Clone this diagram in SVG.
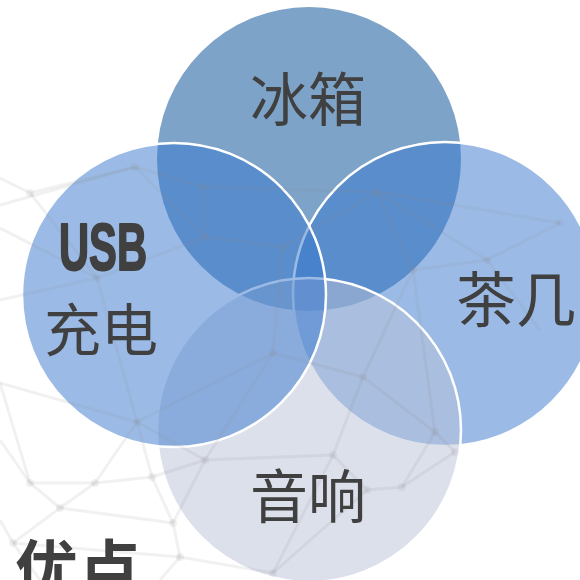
<svg xmlns="http://www.w3.org/2000/svg" width="580" height="580" viewBox="0 0 580 580">
<style>
.mesh line{stroke:#8c8c8c;stroke-opacity:0.12;stroke-width:3}
.mesh circle{fill:#8c8c8c;fill-opacity:0.12}
.blue{fill:#3777CD;fill-opacity:0.5;stroke:#fff;stroke-width:2.5}
.gray{fill:#B9C1D7;fill-opacity:0.5;stroke:#fff;stroke-width:2.5}
.lbl{font-family:"Noto Sans CJK SC","Noto Sans",sans-serif;fill:#404040;text-anchor:middle}
</style>
<rect width="580" height="580" fill="#fff"/>
<g id="top"><circle cx="309" cy="159" r="152" fill="#7DA3C8"/></g>
<g id="right"><circle class="blue" cx="445" cy="294" r="152"/></g>
<g id="bottom"><circle class="gray" cx="309" cy="430" r="152"/></g>
<g id="left"><circle class="blue" cx="174" cy="295" r="152"/></g>
<g class="mesh">
<line x1="0" y1="178" x2="30" y2="193"/><line x1="30" y1="193" x2="135" y2="167"/><line x1="0" y1="205" x2="135" y2="167"/>
<line x1="135" y1="167" x2="203" y2="187"/><line x1="203" y1="187" x2="377" y2="192"/><line x1="377" y1="192" x2="560" y2="223"/>
<line x1="560" y1="223" x2="487" y2="260"/><line x1="487" y1="260" x2="413" y2="270"/><line x1="377" y1="192" x2="487" y2="260"/>
<line x1="377" y1="192" x2="413" y2="270"/><line x1="203" y1="187" x2="205" y2="237"/><line x1="205" y1="237" x2="283" y2="247"/>
<line x1="283" y1="247" x2="377" y2="192"/><line x1="135" y1="167" x2="205" y2="237"/><line x1="30" y1="193" x2="97" y2="278"/>
<line x1="0" y1="228" x2="97" y2="278"/><line x1="97" y1="278" x2="205" y2="237"/><line x1="0" y1="300" x2="97" y2="278"/>
<line x1="97" y1="278" x2="137" y2="422"/><line x1="137" y1="422" x2="273" y2="353"/><line x1="273" y1="353" x2="283" y2="247"/>
<line x1="273" y1="353" x2="363" y2="377"/><line x1="363" y1="377" x2="413" y2="270"/><line x1="413" y1="270" x2="435" y2="432"/>
<line x1="435" y1="432" x2="455" y2="452"/><line x1="455" y1="452" x2="402" y2="487"/><line x1="402" y1="487" x2="435" y2="432"/>
<line x1="363" y1="377" x2="333" y2="455"/><line x1="363" y1="377" x2="435" y2="432"/><line x1="333" y1="455" x2="367" y2="490"/>
<line x1="367" y1="490" x2="402" y2="487"/><line x1="333" y1="455" x2="205" y2="460"/><line x1="205" y1="460" x2="137" y2="422"/>
<line x1="205" y1="460" x2="152" y2="477"/><line x1="152" y1="477" x2="137" y2="422"/><line x1="152" y1="477" x2="95" y2="483"/>
<line x1="95" y1="483" x2="137" y2="422"/><line x1="95" y1="483" x2="30" y2="483"/><line x1="30" y1="483" x2="60" y2="508"/>
<line x1="60" y1="508" x2="95" y2="483"/><line x1="60" y1="508" x2="173" y2="523"/><line x1="173" y1="523" x2="152" y2="477"/>
<line x1="173" y1="523" x2="205" y2="460"/><line x1="173" y1="523" x2="180" y2="557"/><line x1="180" y1="557" x2="273" y2="573"/>
<line x1="273" y1="573" x2="333" y2="455"/><line x1="60" y1="508" x2="13" y2="543"/><line x1="13" y1="543" x2="180" y2="557"/>
<line x1="0" y1="383" x2="30" y2="483"/><line x1="0" y1="383" x2="137" y2="422"/><line x1="0" y1="440" x2="30" y2="483"/>
<line x1="273" y1="353" x2="205" y2="460"/><line x1="0" y1="520" x2="13" y2="543"/><line x1="13" y1="543" x2="40" y2="580"/>
<line x1="180" y1="557" x2="160" y2="580"/><line x1="273" y1="573" x2="367" y2="490"/><line x1="487" y1="260" x2="540" y2="330"/>
<circle cx="30" cy="193" r="4"/><circle cx="135" cy="167" r="4"/><circle cx="203" cy="187" r="4"/><circle cx="377" cy="192" r="4"/>
<circle cx="560" cy="223" r="4"/><circle cx="487" cy="260" r="4"/><circle cx="413" cy="270" r="4"/><circle cx="205" cy="237" r="4"/>
<circle cx="283" cy="247" r="4"/><circle cx="97" cy="278" r="4"/><circle cx="137" cy="422" r="4"/><circle cx="273" cy="353" r="4"/>
<circle cx="363" cy="377" r="4"/><circle cx="435" cy="432" r="4"/><circle cx="455" cy="452" r="4"/><circle cx="402" cy="487" r="4"/>
<circle cx="333" cy="455" r="4"/><circle cx="367" cy="490" r="4"/><circle cx="205" cy="460" r="4"/><circle cx="152" cy="477" r="4"/>
<circle cx="95" cy="483" r="4"/><circle cx="30" cy="483" r="4"/><circle cx="60" cy="508" r="4"/><circle cx="173" cy="523" r="4"/>
<circle cx="180" cy="557" r="4"/><circle cx="273" cy="573" r="4"/><circle cx="13" cy="543" r="4"/>
</g>
<g id="labels">
<text class="lbl" x="308" y="121" font-size="58">冰箱</text>
<text class="lbl" x="516" y="322" font-size="60">茶几</text>
<text class="lbl" x="308" y="518" font-size="58">音响</text>
<text x="103" y="270" font-family="'Liberation Sans Narrow','Liberation Sans',sans-serif" font-weight="bold" font-size="67" fill="#404040" stroke="#404040" stroke-width="2" stroke-linejoin="round" text-anchor="middle" textLength="88" lengthAdjust="spacingAndGlyphs">USB</text>
<text class="lbl" x="101" y="351" font-size="57">充电</text>
<text class="lbl" x="78" y="592" font-size="63" font-weight="bold">优点</text>
</g>
</svg>
